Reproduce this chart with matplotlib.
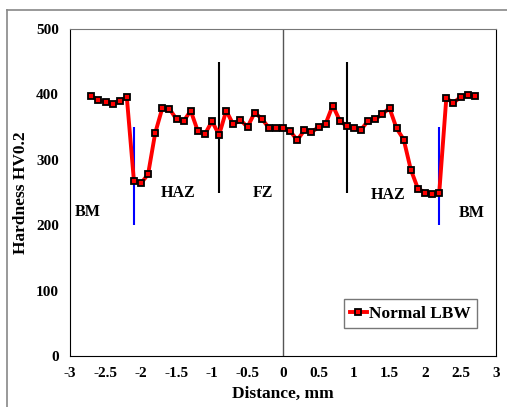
import matplotlib.pyplot as plt
from matplotlib.lines import Line2D
import numpy as np

plt.rcParams['font.family'] = 'Liberation Serif'
plt.rcParams['font.weight'] = 'bold'

distance = np.round(np.arange(-2.7, 2.71, 0.1), 1)
hardness = [398, 391, 389, 386, 390, 396,
            268, 264, 278, 341, 379, 378, 362, 359, 375, 344, 339, 359,
            338, 375, 354, 361, 350, 372, 363, 349, 348, 349,
            344, 330, 345, 342, 350, 355, 383, 360, 351, 348, 346, 360,
            362, 370, 379, 348, 331, 285, 256, 250, 248, 249,
            394, 387, 396, 399, 398]

zone_labels = ['BM', 'HAZ', 'FZ', 'HAZ', 'BM']
zone_x = [-2.75, -1.48, -0.28, 1.48, 2.66]
zone_y = [220, 249, 249, 246, 219]

fig = plt.figure(figsize=(5.07, 4.07), dpi=100)
# outer chart border (only top and left visible)
fig.lines.append(Line2D([7 / 507, 7 / 507], [0, 1 - 10 / 407],
                        transform=fig.transFigure, color='#888888', lw=1.2))
fig.lines.append(Line2D([7 / 507, 1], [1 - 10 / 407, 1 - 10 / 407],
                        transform=fig.transFigure, color='#888888', lw=1.2))
ax = fig.add_axes([70 / 507, 1 - 356 / 407, 426 / 507, 327 / 407])

ax.axvline(0, color='#555555', lw=1)
ax.vlines([-0.9, 0.9], 250, 450, color='black', lw=1.5)
ax.vlines([-2.1, 2.2], 200, 350, color='blue', lw=1.5)

ax.plot(distance, hardness, color='red', lw=2.8, marker='s', ms=4,
        mfc='red', mec='black', mew=1.3, label='Normal LBW')

for lab, x, y in zip(zone_labels, zone_x, zone_y):
    ax.text(x, y, lab, ha='center', va='center', fontsize=11.5, fontweight='bold')

ax.set_xlim(-3, 3)
ax.set_ylim(0, 500)
ax.set_xticks(np.arange(-3, 3.01, 0.5))
ax.set_xticklabels(['-3', '-2.5', '-2', '-1.5', '-1', '-0.5', '0', '0.5',
                    '1', '1.5', '2', '2.5', '3'])
ax.set_yticks(range(0, 501, 100))
ax.tick_params(length=0, labelsize=11, pad=8)
for lbl in ax.get_xticklabels() + ax.get_yticklabels():
    lbl.set_fontweight('bold')
ax.set_xlabel('Distance, mm', fontsize=12.5, fontweight='bold', labelpad=4)
ax.set_ylabel('Hardness HV0.2', fontsize=12.5, fontweight='bold', labelpad=5)
ax.spines['top'].set_color('#777777')
ax.spines['left'].set_color('black')

leg = ax.legend(loc='lower right', bbox_to_anchor=(0.975, 0.06), fancybox=False,
                edgecolor='#555555', prop={'weight': 'bold', 'size': 12.5},
                handlelength=1.0, handletextpad=0.1, borderpad=0.35)
leg.get_frame().set_linewidth(1)

fig.savefig('out.png', dpi=100)
